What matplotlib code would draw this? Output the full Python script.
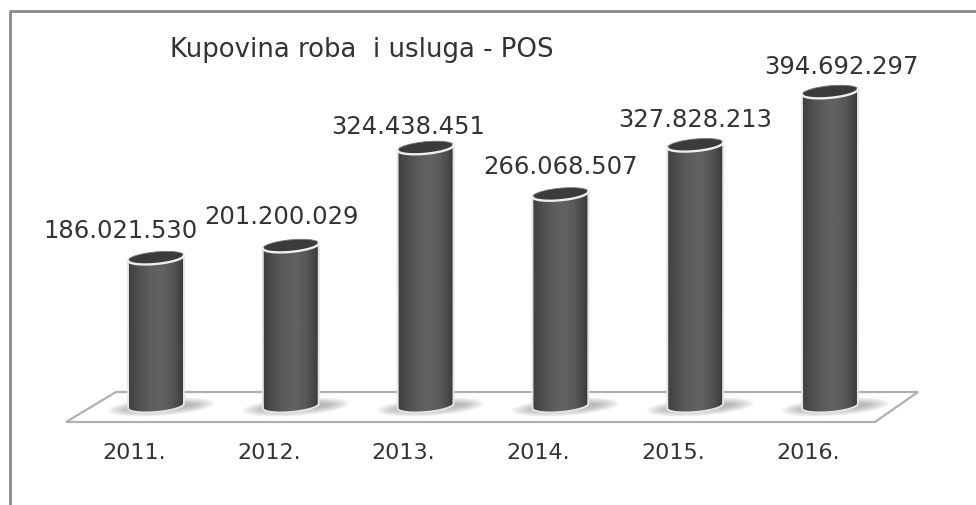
import numpy as np
import matplotlib
matplotlib.use("Agg")
import matplotlib.pyplot as plt
from matplotlib.patches import Polygon

years = ["2011.", "2012.", "2013.", "2014.", "2015.", "2016."]
values = [186021530, 201200029, 324438451, 266068507, 327828213, 394692297]
value_labels = ["186.021.530", "201.200.029", "324.438.451", "266.068.507", "327.828.213", "394.692.297"]
title = "Kupovina roba  i usluga - POS"

# label shift from the bar top, in pixels
label_dx = [-36, -9, -17, 0, 0, 11]
label_dy = [28, 30, 22, 28, 26, 26]

W, H = 976, 506
x0_px, step_px = 156.0, 134.8
base_px, px_per_val = 407.0, 0.796e-6
half_w = 28.0
half_h = 6.0
tilt = np.radians(-5.5)

plt.rcParams["font.family"] = ["DejaVu Sans"]
fig = plt.figure(figsize=(W / 100, H / 100), dpi=100)
ax = fig.add_axes([0, 0, 1, 1])
ax.set_xlim(-x0_px / step_px, (W - x0_px) / step_px)
ax.set_ylim((base_px - H) / px_per_val, base_px / px_per_val)
ax.axis("off")


def dx(px):
    return px / step_px


def dy(px):
    return px / px_per_val


def ellipse(xc, yc, a=half_w, b=half_h, t0=0, t1=2 * np.pi, angle=tilt):
    # points of a tilted ellipse, a and b in pixels
    t = np.linspace(t0, t1, 80)
    ex = a * np.cos(t)
    ey = b * np.sin(t)
    px = ex * np.cos(angle) - ey * np.sin(angle)
    py = ex * np.sin(angle) + ey * np.cos(angle)
    return np.column_stack([xc + dx(px), yc + dy(-py)])


def from_px(x, y):
    return ((x - x0_px) / step_px, (base_px - y) / px_per_val)


# image border
ax.plot(*zip(from_px(10, H), from_px(10, 12), from_px(W, 12)), color="#8a8a8a", lw=2, zorder=1)

# floor
floor = [from_px(66, 423), from_px(116, 393), from_px(918, 393), from_px(875, 423)]
ax.add_patch(Polygon(floor, closed=True, fc="white", ec="#b0b0b0", lw=1.6, zorder=2))

shade = np.array([0.24, 0.29, 0.33, 0.36, 0.38, 0.38, 0.35, 0.30, 0.22])
xs = np.linspace(0, 1, 200)
shade_row = np.interp(xs, np.linspace(0, 1, len(shade)), shade)
shade_img = np.tile(shade_row, (2, 1))

for i, val in enumerate(values):
    # soft shadow on the floor
    for k in range(12):
        f = 1 - k / 12
        shadow = ellipse(i + dx(5), dy(-1), a=half_w + 2 + 24 * f, b=2 + 7 * f, angle=np.radians(-4))
        ax.add_patch(Polygon(shadow, closed=True, fc="#808080", ec="none", alpha=0.06, zorder=3))

    # body: top edge straight across, bottom follows the lower half of the base ellipse
    bottom = ellipse(i, 0, t0=np.pi, t1=0, angle=tilt * 0.9)
    left_top = (i - dx(half_w), val + dy(half_w * np.sin(tilt)))
    right_top = (i + dx(half_w), val - dy(half_w * np.sin(tilt)))
    body = Polygon([left_top, *bottom, right_top], closed=True, fc="none", ec="#e4e4e4", lw=1.4, zorder=6)
    im = ax.imshow(shade_img, cmap="gray", vmin=0, vmax=1, aspect="auto", zorder=5,
                   extent=(i - dx(half_w), i + dx(half_w), dy(-20), val + dy(20)))
    ax.add_patch(body)
    im.set_clip_path(body)

    # top cap, only its lower edge is light
    cap = Polygon(ellipse(i, val), closed=True, fc="#3b3b3b", ec="#777777", lw=0.6, zorder=7)
    ax.add_patch(cap)
    rim = ellipse(i, val, t0=0, t1=np.pi)
    ax.plot(rim[:, 0], rim[:, 1], color="#efefef", lw=1.7, zorder=7.5)

    ax.annotate(value_labels[i], (i, val), xytext=(label_dx[i], label_dy[i]), textcoords="offset pixels",
                ha="center", va="center", fontsize=17.5, color="#333333", zorder=8)
    # year labels sit a little left of their bars
    ax.text(i - dx(22), from_px(0, 453)[1], years[i], ha="center", va="center", fontsize=16, color="#333333", zorder=8)

ax.text(*from_px(170, 50), title, ha="left", va="center", fontsize=18.7, color="#333333", zorder=8)

fig.savefig("out.png", dpi=100)
